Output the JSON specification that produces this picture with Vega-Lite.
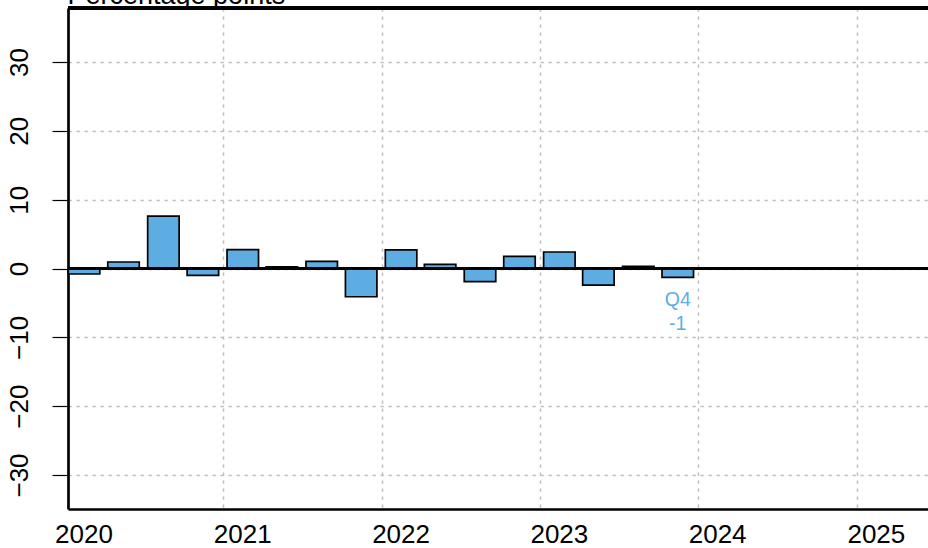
{
  "$schema": "https://vega.github.io/schema/vega-lite/v6.json",
  "width": 860,
  "height": 501,
  "autosize": {"type": "none"},
  "padding": {"left": 68, "top": 8, "right": 0, "bottom": 39},
  "background": "white",
  "config": {"font": "Liberation Sans", "view": {"stroke": null}},
  "data": {
    "values": [
      {"quarter": "2020 Q1", "date": "2020/02/15", "value": -0.8},
      {"quarter": "2020 Q2", "date": "2020/05/16", "value": 0.95},
      {"quarter": "2020 Q3", "date": "2020/08/16", "value": 7.6},
      {"quarter": "2020 Q4", "date": "2020/11/15", "value": -1.0},
      {"quarter": "2021 Q1", "date": "2021/02/15", "value": 2.75},
      {"quarter": "2021 Q2", "date": "2021/05/16", "value": 0.25},
      {"quarter": "2021 Q3", "date": "2021/08/16", "value": 1.05},
      {"quarter": "2021 Q4", "date": "2021/11/15", "value": -4.1},
      {"quarter": "2022 Q1", "date": "2022/02/15", "value": 2.7},
      {"quarter": "2022 Q2", "date": "2022/05/16", "value": 0.6},
      {"quarter": "2022 Q3", "date": "2022/08/16", "value": -1.9},
      {"quarter": "2022 Q4", "date": "2022/11/15", "value": 1.75},
      {"quarter": "2023 Q1", "date": "2023/02/15", "value": 2.4},
      {"quarter": "2023 Q2", "date": "2023/05/16", "value": -2.4},
      {"quarter": "2023 Q3", "date": "2023/08/16", "value": 0.3},
      {"quarter": "2023 Q4", "date": "2023/11/15", "value": -1.3, "label": "Q4\n-1"}
    ]
  },
  "layer": [
    {
      "mark": {"type": "bar", "fill": "#5DADE2", "stroke": "black", "strokeWidth": 1.7, "width": 31.5},
      "encoding": {
        "x": {
          "field": "date",
          "type": "temporal",
          "scale": {"domain": [{"year": 2020, "month": 1, "date": 9}, {"year": 2025, "month": 6, "date": 14}], "padding": 0},
          "axis": {
            "values": [{"year": 2020, "month": 1, "date": 9}, {"year": 2021, "month": 1, "date": 1}, {"year": 2022, "month": 1, "date": 1}, {"year": 2023, "month": 1, "date": 1}, {"year": 2024, "month": 1, "date": 1}, {"year": 2025, "month": 1, "date": 1}],
            "format": "%Y",
            "title": null,
            "ticks": false,
            "tickSize": 0,
            "labelFontSize": 26,
            "labelColor": "black",
            "labelOffset": {"condition": {"test": "year(datum.value) == 2020", "value": 15.5}, "value": 19},
            "labelPadding": 12.5,
            "labelBaseline": "top",
            "labelAlign": "center",
            "labelFlush": false,
            "labelOverlap": false,
            "labelBound": false,
            "domain": true,
            "domainColor": "black",
            "domainWidth": 2.7,
            "grid": true,
            "gridColor": "#BEBEBE",
            "gridWidth": 1.5,
            "gridDash": [3.3, 4.7],
            "gridOpacity": {"condition": {"test": "year(datum.value) == 2020", "value": 0}, "value": 1}
          }
        },
        "y": {
          "field": "value",
          "type": "quantitative",
          "scale": {"domain": [-34.94, 37.85], "nice": false, "zero": false, "padding": 0},
          "axis": {
            "values": [-30, -20, -10, 0, 10, 20, 30],
            "title": "Percentage points",
            "titleAngle": 0,
            "titleAlign": "left",
            "titleBaseline": "alphabetic",
            "titleX": -1,
            "titleY": -5,
            "titleFontSize": 27,
            "titleFontWeight": "normal",
            "titleColor": "black",
            "labelAngle": 270,
            "labelAlign": "center",
            "labelBaseline": "alphabetic",
            "labelFontSize": 26,
            "labelColor": "black",
            "labelPadding": 25,
            "labelOverlap": false,
            "labelFlush": false,
            "ticks": true,
            "tickSize": 16,
            "tickColor": "black",
            "tickWidth": 1.2,
            "domain": true,
            "domainColor": "black",
            "domainWidth": 2.7,
            "grid": true,
            "gridColor": "#BEBEBE",
            "gridWidth": 1.5,
            "gridDash": [3.3, 4.7]
          }
        }
      }
    },
    {
      "mark": {"type": "rule", "color": "black", "strokeWidth": 1.3},
      "encoding": {"y": {"datum": 0, "type": "quantitative"}}
    },
    {
      "mark": {"type": "rule", "color": "black", "strokeWidth": 2.6},
      "encoding": {"y": {"datum": 37.85, "type": "quantitative"}}
    },
    {
      "transform": [{"filter": "isValid(datum.label)"}],
      "mark": {"type": "text", "align": "center", "baseline": "top", "fontSize": 19.5, "lineHeight": 23.4, "lineBreak": "\n", "color": "#5DADE2", "dy": 14},
      "encoding": {
        "x": {"field": "date", "type": "temporal"},
        "y": {"field": "value", "type": "quantitative"},
        "text": {"field": "label"}
      }
    }
  ]
}
